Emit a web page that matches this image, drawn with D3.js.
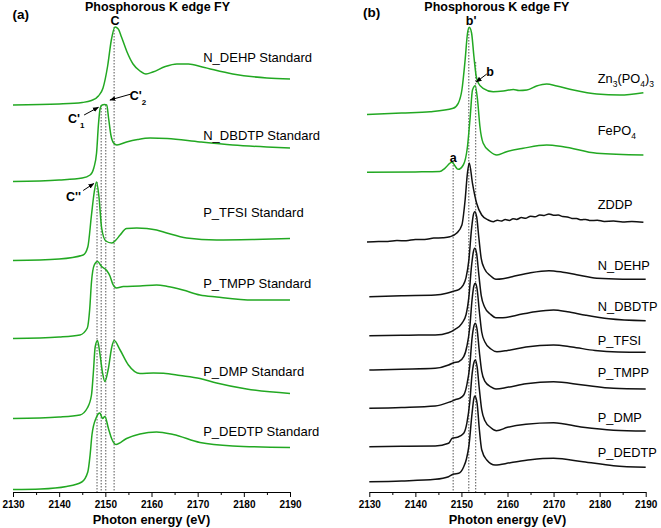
<!DOCTYPE html>
<html>
<head>
<meta charset="utf-8">
<script src="https://cdn.jsdelivr.net/npm/d3@7"></script>
<style>
  html, body { margin: 0; padding: 0; background: #fff; }
  svg { display: block; font-family: "Liberation Sans", Arial, sans-serif; }
</style>
</head>
<body>
<svg id="chart" width="661" height="528"></svg>
<script>
// ---------------- DATA ----------------
const energyRange = [2130, 2190];
const majorTicks = [2130, 2140, 2150, 2160, 2170, 2180, 2190];
const minorTicks = [2135, 2145, 2155, 2165, 2175, 2185];
const panelTitle = "Phosphorous K edge FY";
const axisTitle = "Photon energy (eV)";

// Panel (a): standards, [energy eV, intensity a.u. above own baseline]
const aNames = ["N_DEHP Standard", "N_DBDTP Standard", "P_TFSI Standard", "P_TMPP Standard", "P_DMP Standard", "P_DEDTP Standard"];
const aOffsets = [387, 310.5, 231.5, 153.5, 73.5, 2.5];
const aLabelLevels = [430, 352.5, 275.5, 204.5, 116, 56.5];
const a_N_DEHP = [[2130,0],[2140,1],[2145,2.5],[2147,4.5],[2148.5,9],[2149.5,17],[2150.5,39],[2151.3,65],[2152.1,78],[2152.8,76],[2153.5,68],[2154.7,53],[2156,41],[2157.5,34],[2158.8,31],[2160.3,33],[2163,38.5],[2165.5,41],[2168,41],[2171,38],[2177.6,31],[2185,27],[2190,26]];
const a_N_DBDTP = [[2130,0],[2140,1.5],[2145,3.5],[2146.7,6.5],[2147.5,13.5],[2148.1,28.5],[2148.5,56.5],[2148.9,73.5],[2149.3,76.5],[2149.8,77],[2150.3,76.5],[2150.7,63.5],[2151.2,46.5],[2151.8,38.5],[2152.5,36.5],[2154.6,39.5],[2157,42],[2159.7,43.5],[2163.4,43],[2170.5,39.5],[2177.6,36.5],[2185,34.5],[2190,33.5]];
const a_P_TFSI = [[2130,0],[2140,1.5],[2145.2,5.5],[2146.2,13.5],[2147,45.5],[2147.6,68.5],[2148.1,78.5],[2148.6,64.5],[2149.2,32.5],[2150.1,19.5],[2151.4,17.5],[2152.3,20.5],[2153.2,25.5],[2154.6,32],[2156.8,32.5],[2159,32],[2161.1,30.5],[2163.3,27.5],[2167.6,22.5],[2174.1,20.5],[2182,21],[2190,22]];
const a_P_TMPP = [[2130,0],[2140,1.5],[2144.5,3.5],[2146.1,10.5],[2146.6,28.5],[2147,56.5],[2147.6,73.5],[2148.3,77],[2149.2,72],[2150.3,68],[2151,62.5],[2151.6,54.5],[2152.4,50.5],[2153.9,52],[2157.5,52.5],[2161.1,53.5],[2163.5,52],[2166.8,48.5],[2170.5,43.5],[2174.1,41.5],[2182,38.5],[2190,38.5]];
const a_P_DMP = [[2130,0],[2140,1.5],[2144.5,3.5],[2146.1,10.5],[2147,23.5],[2147.4,45.5],[2147.8,71.5],[2148.3,78],[2148.8,65.5],[2149.4,45.5],[2149.9,37],[2150.6,48.5],[2151.4,71.5],[2151.9,78],[2153.2,68.5],[2155,53.5],[2157.5,45],[2160.4,45.5],[2162.6,45.2],[2166.2,43],[2170.5,40],[2174.1,35.5],[2180.6,29.5],[2190,25]];
const a_P_DEDTP = [[2130,0],[2136,0.5],[2141.6,3],[2144.9,7.5],[2146.2,17.5],[2146.7,34.5],[2147.1,54.5],[2148,71.5],[2148.8,76.5],[2149.4,71],[2149.9,73],[2150.7,60.5],[2151.4,50.5],[2152.3,45],[2154.6,51],[2157.5,55.5],[2161.1,57.5],[2164.7,55],[2170.5,47],[2177.6,43.5],[2190,42]];
const aDotted = [[2148.2, 310], [2149.1, 387], [2150.1, 387], [2151.9, 465]];

// Panel (b): references and samples
const bNames = ["Zn3(PO4)3", "FePO4", "ZDDP", "N_DEHP", "N_DBDTP", "P_TFSI", "P_TMPP", "P_DMP", "P_DEDTP"];
const bOffsets = [377.5, 319.7, 250, 195.3, 156.3, 122, 83.7, 45.3, 10.3];
const bLabelLevels = [409, 356.8, 283.5, 222.5, 181, 147.5, 115, 70, 35];
const bColors = ["green", "green", "black", "black", "black", "black", "black", "black", "black"];
const b_Zn3PO4 = [[2129.5,0],[2137,1.5],[2143.2,2.8],[2148.2,6.2],[2149.3,11.2],[2150.1,24.5],[2150.8,54.5],[2151.3,80.5],[2151.7,87.2],[2152.2,81.5],[2152.7,58.5],[2153.2,38.5],[2153.7,31.2],[2154.7,26.2],[2156.9,22.8],[2159.1,23.5],[2161.3,25],[2162.5,24],[2164.2,24.5],[2166.3,28.5],[2168.5,30.5],[2170.7,28.5],[2174.3,24.5],[2179.4,20.5],[2184.4,19.5],[2189.5,21.8]];
const b_FePO4 = [[2129.5,0],[2140,0.4],[2145.3,0.8],[2146.4,4],[2147.9,10],[2149.3,3],[2150.4,7.3],[2151.3,25.3],[2151.9,55.3],[2152.4,82.3],[2153,86.6],[2153.5,72.3],[2154,46.3],[2154.7,29.3],[2156.2,20.8],[2157.7,17.3],[2159.8,20.6],[2163.4,24],[2168.5,27.3],[2172.1,25.6],[2179.4,19],[2189.5,17.3]];
const b_ZDDP = [[2129.5,0],[2132,0.6],[2134,0.5],[2136,1.4],[2138,1.3],[2140,2.5],[2142,2.6],[2144,3.9],[2146,4.3],[2147.5,5.3],[2149,9],[2150.1,17],[2150.8,42],[2151.3,68.7],[2151.7,79],[2152.4,58.7],[2153.3,38.7],[2154.4,27],[2155.8,22],[2156.9,20.3],[2157.8,21.8],[2158.6,20.9],[2159.5,22.4],[2160.4,21.6],[2161.2,23.2],[2162,22.6],[2163,24.4],[2164,23.8],[2165,25.8],[2166,25.2],[2167,27.1],[2168,26.6],[2169,28.1],[2170,26.8],[2171,26.9],[2172,25.5],[2173,25.1],[2174,23.6],[2175,23.4],[2176,22.2],[2177,22.6],[2178,21.4],[2179.5,21.8],[2181,20.6],[2183,20.9],[2185,20],[2187,20.4],[2189.5,19.7]];
const b_N_DEHP = [[2130,0],[2137,1],[2144.3,1.7],[2146.8,3.4],[2148.3,5.5],[2149.4,7],[2150.3,11],[2151,19],[2151.6,36],[2152.2,68],[2152.6,82],[2152.9,85],[2153.3,80],[2153.8,58],[2154.3,38],[2155,28],[2156.3,21],[2157.5,17.5],[2159,18],[2161,20],[2165,24],[2169,26],[2172,24.5],[2175,22],[2179.4,18.4],[2185,17.5],[2190,17.4]];
const b_N_DBDTP = [[2130,0],[2137,0.5],[2144.3,0.7],[2147.2,3],[2148.6,6.4],[2150.1,12.4],[2151,21],[2151.6,38],[2152.2,70],[2152.6,84],[2152.9,87.4],[2153.3,82],[2153.8,60],[2154.3,40],[2155,29],[2156.3,21.5],[2157.5,18],[2159,18],[2162,20.5],[2166,24],[2170,25.7],[2173,24],[2177,20.5],[2182,17],[2190,15]];
const b_P_TFSI = [[2130,0],[2137,0.8],[2144.3,1.7],[2147.2,5],[2148.3,7.3],[2149.4,8.3],[2150.5,13.3],[2151.2,24],[2151.8,42],[2152.3,70],[2152.7,84],[2153,86.7],[2153.4,81],[2153.9,58],[2154.4,38],[2155.1,28],[2156.4,21],[2157.7,18.3],[2160,19.5],[2164,23],[2170,25],[2174,23],[2179,19.5],[2184,18],[2190,17.7]];
const b_P_TMPP = [[2130,0],[2137,0.8],[2144.3,2.3],[2147.6,6.6],[2148.9,9],[2149.6,10],[2150.5,13.3],[2151.2,24],[2151.8,42],[2152.3,70],[2152.7,82],[2153,85],[2153.4,79],[2153.9,56],[2154.4,37],[2155.1,27],[2156.4,21.5],[2157.5,19.3],[2160,21],[2164,24.5],[2170,26.6],[2176.4,23.3],[2183,20],[2190,19.3]];
const b_P_DMP = [[2130,0],[2137,0.4],[2144.3,0.7],[2147.2,3.4],[2148,8.4],[2149.1,9.4],[2150.5,13.4],[2151.2,24],[2151.8,44],[2152.3,72],[2152.7,84],[2153,86.7],[2153.4,80],[2153.9,57],[2154.4,37],[2155.1,26],[2156.4,19],[2157.6,16],[2160,19.4],[2164,22.5],[2170,24],[2176.4,19.4],[2183,16.5],[2190,15.7]];
const b_P_DEDTP = [[2130,0],[2137,0.8],[2144.3,2.4],[2147.2,5],[2148.3,7.7],[2149.4,8.4],[2150.5,15],[2151.1,23],[2151.6,35],[2152.3,68],[2152.7,83.4],[2152.9,85.7],[2153.4,78.4],[2153.9,51.7],[2154.4,32],[2155.5,21.7],[2157.3,16.7],[2160.6,19],[2165,22],[2170,23.4],[2176.4,20],[2183,16],[2190,14.4]];
const bDotted = [[2148.2, 330], [2151.6, 464], [2153.1, 430]];

// ---------------- CHART ----------------
const svg = d3.select("#chart");
const GREEN = "#22a822";
const colorMap = { green: GREEN, black: "#111" };

const xA = d3.scaleLinear().domain(energyRange).range([13, 290]);
const xB = d3.scaleLinear().domain(energyRange).range([369.3, 645.7]);
const y = d3.scaleLinear().domain([0, 480]).range([492, 12]);

const defs = svg.append("defs");
defs.append("marker").attr("id", "arrow").attr("viewBox", "0 0 10 10")
  .attr("refX", 9).attr("refY", 5).attr("markerWidth", 6).attr("markerHeight", 6)
  .attr("markerUnits", "userSpaceOnUse").attr("orient", "auto")
  .append("path").attr("d", "M0,1 L10,5 L0,9 Z").attr("fill", "#000");

function drawPanel(x, series, dotted, titleCenterE, axisTitleCenterE) {
  const g = svg.append("g");
  g.selectAll("line.guide").data(dotted).join("line")
    .attr("x1", d => x(d[0])).attr("x2", d => x(d[0]))
    .attr("y1", d => y(d[1])).attr("y2", y(0))
    .attr("stroke", "#555").attr("stroke-width", 1)
    .attr("stroke-dasharray", "1.5,1.5");

  const line = d3.line().x(d => x(d[0])).y(d => y(d[1])).curve(d3.curveMonotoneX);
  g.selectAll("path.spec").data(series).join("path")
    .attr("fill", "none")
    .attr("stroke", d => colorMap[d.color])
    .attr("stroke-width", 1.5)
    .attr("stroke-linejoin", "round")
    .attr("d", d => line(d.values.map(p => [p[0], p[1] + d.offset])));

  const ax = g.append("g").attr("transform", `translate(0,${y(0)})`);
  ax.call(d3.axisBottom(x).tickValues(majorTicks).tickFormat(d3.format("d"))
      .tickSizeInner(5).tickSizeOuter(0).tickPadding(4));
  ax.select(".domain").attr("stroke", "#000");
  ax.selectAll(".tick line").attr("stroke", "#000");
  ax.selectAll(".tick text").attr("font-size", 10).attr("font-weight", "bold")
    .attr("font-family", "Liberation Sans, Arial, sans-serif").attr("fill", "#000");
  const minor = g.append("g").attr("transform", `translate(0,${y(0)})`);
  minor.call(d3.axisBottom(x).tickValues(minorTicks).tickFormat("").tickSizeInner(3).tickSizeOuter(0));
  minor.select(".domain").remove();
  minor.selectAll(".tick line").attr("stroke", "#000");

  g.append("text").attr("x", x(axisTitleCenterE)).attr("y", 523.5)
    .attr("text-anchor", "middle").attr("font-size", 12.8).attr("font-weight", "bold")
    .text(axisTitle);
  g.append("text").attr("x", x(titleCenterE)).attr("y", 11)
    .attr("text-anchor", "middle").attr("font-size", 12.5).attr("font-weight", "bold")
    .text(panelTitle);
  return g;
}

// ---- panel (a)
const aValues = [a_N_DEHP, a_N_DBDTP, a_P_TFSI, a_P_TMPP, a_P_DMP, a_P_DEDTP];
const aSeries = aNames.map((n, i) => ({ name: n, values: aValues[i], offset: aOffsets[i], label: aLabelLevels[i], color: "green" }));
const gA = drawPanel(xA, aSeries, aDotted, 2161.3, 2160);
gA.selectAll("text.lab").data(aSeries).join("text")
  .attr("x", xA(2171.2)).attr("y", d => y(d.label))
  .attr("font-size", 13).attr("fill", "#000").text(d => d.name);
gA.append("text").attr("x", 12.5).attr("y", 18.5).attr("font-size", 13.5).attr("font-weight", "bold").text("(a)");

const aAnnot = [
  { t: "C", sub: "", e: 2152.1, v: 467.5, anchor: "middle" },
  { t: "C'", sub: "2", e: 2155.3, v: 392, anchor: "start" },
  { t: "C'", sub: "1", e: 2141.9, v: 369.5, anchor: "start" },
  { t: "C''", sub: "", e: 2141.5, v: 291, anchor: "start" }
];
aAnnot.forEach(a => {
  const t = gA.append("text").attr("x", xA(a.e)).attr("y", y(a.v))
    .attr("text-anchor", a.anchor).attr("font-size", 12.5).attr("font-weight", "bold").text(a.t);
  if (a.sub) t.append("tspan").attr("dy", 5).attr("font-size", 8).text(a.sub);
});
const aArrows = [
  [[2155.6, 398], [2151.0, 392]],
  [[2145.4, 377], [2148.5, 384.7]],
  [[2145.2, 301.5], [2147.5, 308.5]]
];
gA.selectAll("line.arr").data(aArrows).join("line")
  .attr("x1", d => xA(d[0][0])).attr("y1", d => y(d[0][1]))
  .attr("x2", d => xA(d[1][0])).attr("y2", d => y(d[1][1]))
  .attr("stroke", "#000").attr("stroke-width", 1).attr("marker-end", "url(#arrow)");

// ---- panel (b)
const bValues = [b_Zn3PO4, b_FePO4, b_ZDDP, b_N_DEHP, b_N_DBDTP, b_P_TFSI, b_P_TMPP, b_P_DMP, b_P_DEDTP];
const bSeries = bNames.map((n, i) => ({ name: n, values: bValues[i], offset: bOffsets[i], label: bLabelLevels[i], color: bColors[i] }));
const gB = drawPanel(xB, bSeries, bDotted, 2157.7, 2160);
bSeries.forEach(d => {
  const t = gB.append("text").attr("x", xB(2179.6)).attr("y", y(d.label)).attr("font-size", 12.8).attr("fill", "#000");
  const parts = d.name.match(/(_[A-Z]+|[A-Za-z()_]+|\d+)/g);
  if (/^[A-Z][a-z]?\d|PO\d/.test(d.name)) {
    let sub = false;
    parts.forEach(p => {
      const isNum = /^\d+$/.test(p);
      const ts = t.append("tspan").text(p);
      if (isNum && !sub) { ts.attr("dy", 3.5).attr("font-size", 8.5); sub = true; }
      else if (!isNum && sub) { ts.attr("dy", -3.5); sub = false; }
    });
  } else {
    t.text(d.name);
  }
});
gB.append("text").attr("x", 363).attr("y", 17).attr("font-size", 13.5).attr("font-weight", "bold").text("(b)");
const bAnnot = [
  { t: "b'", e: 2152.1, v: 467.5 },
  { t: "b", e: 2156.2, v: 416.5 },
  { t: "a", e: 2148.2, v: 330.5 }
];
gB.selectAll("text.ann").data(bAnnot).join("text")
  .attr("x", d => xB(d.e)).attr("y", d => y(d.v)).attr("text-anchor", "middle")
  .attr("font-size", 12.5).attr("font-weight", "bold").text(d => d.t);
const bArrows = [[[2155.5, 418], [2153.2, 410]]];
gB.selectAll("line.arr").data(bArrows).join("line")
  .attr("x1", d => xB(d[0][0])).attr("y1", d => y(d[0][1]))
  .attr("x2", d => xB(d[1][0])).attr("y2", d => y(d[1][1]))
  .attr("stroke", "#000").attr("stroke-width", 1).attr("marker-end", "url(#arrow)");
</script>
</body>
</html>
